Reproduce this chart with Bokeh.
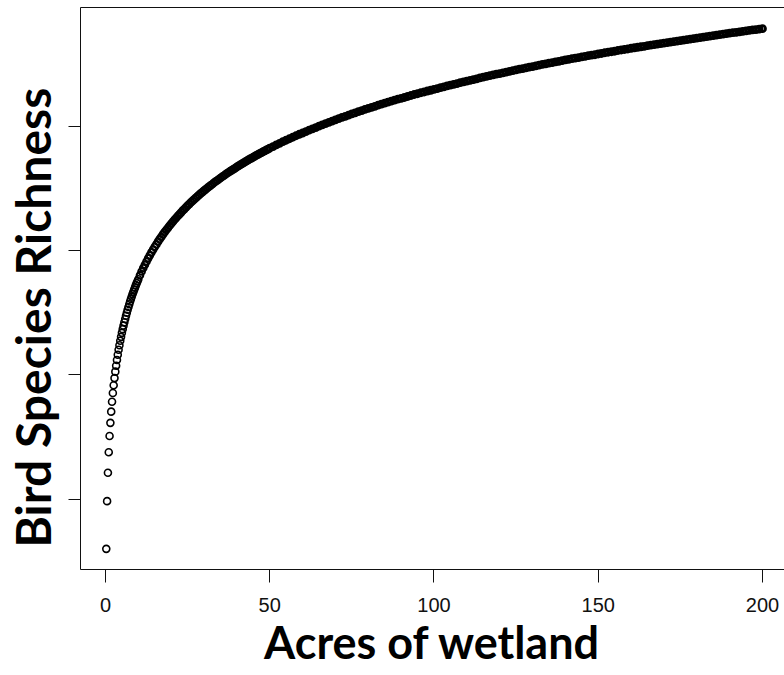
from bokeh.embed import file_html
from bokeh.models import ColumnDataSource, FixedTicker, LinearAxis, Range1d
from bokeh.plotting import figure
from bokeh.resources import INLINE

# Wetland area (acres) sampled finely near zero, coarser further out
acres_fine = [0.25, 0.5, 0.75, 1.0, 1.25, 1.5, 1.75, 2.0, 2.25, 2.5, 2.75, 3.0, 3.25, 3.5,
              3.75, 4.0, 4.25, 4.5, 4.75, 5.0, 5.25, 5.5, 5.75, 6.0, 6.25, 6.5, 6.75, 7.0,
              7.25, 7.5, 7.75, 8.0, 8.25, 8.5, 8.75, 9.0, 9.25, 9.5, 9.75, 10.0]
richness_fine = [8.00, 9.92, 11.06, 11.89, 12.54, 13.07, 13.52, 13.92, 14.27, 14.58, 14.87,
                 15.13, 15.37, 15.60, 15.81, 16.01, 16.19, 16.37, 16.53, 16.69, 16.84, 16.98,
                 17.12, 17.25, 17.38, 17.50, 17.62, 17.73, 17.84, 17.95, 18.05, 18.15, 18.25,
                 18.34, 18.43, 18.52, 18.61, 18.69, 18.77, 18.85]

acres_mid = [10.5, 11, 11.5, 12, 12.5, 13, 13.5, 14, 14.5, 15, 15.5, 16, 16.5, 17, 17.5, 18,
             18.5, 19, 19.5, 20, 20.5, 21, 21.5, 22, 22.5, 23, 23.5, 24, 24.5, 25, 25.5, 26,
             26.5, 27, 27.5, 28, 28.5, 29, 29.5, 30, 30.5, 31, 31.5, 32, 32.5, 33, 33.5, 34,
             34.5, 35, 35.5, 36, 36.5, 37, 37.5, 38, 38.5, 39, 39.5, 40, 40.5, 41, 41.5, 42,
             42.5, 43, 43.5, 44, 44.5, 45, 45.5, 46, 46.5, 47, 47.5, 48, 48.5, 49, 49.5, 50]
richness_mid = [19.01, 19.16, 19.30, 19.43, 19.56, 19.69, 19.81, 19.93, 20.04, 20.15, 20.25,
                20.36, 20.46, 20.55, 20.65, 20.74, 20.83, 20.91, 21.00, 21.08, 21.16, 21.24,
                21.31, 21.39, 21.46, 21.53, 21.61, 21.67, 21.74, 21.81, 21.87, 21.94, 22.00,
                22.06, 22.12, 22.18, 22.24, 22.30, 22.35, 22.41, 22.46, 22.52, 22.57, 22.62,
                22.67, 22.73, 22.78, 22.82, 22.87, 22.92, 22.97, 23.01, 23.06, 23.11, 23.15,
                23.20, 23.24, 23.28, 23.32, 23.37, 23.41, 23.45, 23.49, 23.53, 23.57, 23.61,
                23.65, 23.69, 23.72, 23.76, 23.80, 23.84, 23.87, 23.91, 23.94, 23.98, 24.01,
                24.05, 24.08, 24.12]

acres_wide = [51, 52, 53, 54, 55, 56, 57, 58, 59, 60, 61, 62, 63, 64, 65, 66, 67, 68, 69, 70,
              71, 72, 73, 74, 75, 76, 77, 78, 79, 80, 81, 82, 83, 84, 85, 86, 87, 88, 89, 90,
              91, 92, 93, 94, 95, 96, 97, 98, 99, 100, 101, 102, 103, 104, 105, 106, 107, 108,
              109, 110, 111, 112, 113, 114, 115, 116, 117, 118, 119, 120, 121, 122, 123, 124,
              125, 126, 127, 128, 129, 130, 131, 132, 133, 134, 135, 136, 137, 138, 139, 140,
              141, 142, 143, 144, 145, 146, 147, 148, 149, 150, 151, 152, 153, 154, 155, 156,
              157, 158, 159, 160, 161, 162, 163, 164, 165, 166, 167, 168, 169, 170, 171, 172,
              173, 174, 175, 176, 177, 178, 179, 180, 181, 182, 183, 184, 185, 186, 187, 188,
              189, 190, 191, 192, 193, 194, 195, 196, 197, 198, 199, 200]
richness_wide = [24.18, 24.25, 24.31, 24.38, 24.44, 24.50, 24.56, 24.62, 24.68, 24.73,
                 24.79, 24.85, 24.90, 24.95, 25.01, 25.06, 25.11, 25.16, 25.21, 25.26,
                 25.31, 25.36, 25.40, 25.45, 25.50, 25.54, 25.59, 25.63, 25.68, 25.72,
                 25.76, 25.80, 25.85, 25.89, 25.93, 25.97, 26.01, 26.05, 26.09, 26.12,
                 26.16, 26.20, 26.24, 26.28, 26.31, 26.35, 26.38, 26.42, 26.45, 26.49,
                 26.52, 26.56, 26.59, 26.63, 26.66, 26.69, 26.72, 26.76, 26.79, 26.82,
                 26.85, 26.88, 26.91, 26.95, 26.98, 27.01, 27.04, 27.07, 27.10, 27.12,
                 27.15, 27.18, 27.21, 27.24, 27.27, 27.30, 27.32, 27.35, 27.38, 27.40,
                 27.43, 27.46, 27.49, 27.51, 27.54, 27.56, 27.59, 27.61, 27.64, 27.67,
                 27.69, 27.72, 27.74, 27.76, 27.79, 27.81, 27.84, 27.86, 27.88, 27.91,
                 27.93, 27.96, 27.98, 28.00, 28.02, 28.05, 28.07, 28.09, 28.11, 28.14,
                 28.16, 28.18, 28.20, 28.22, 28.25, 28.27, 28.29, 28.31, 28.33, 28.35,
                 28.37, 28.39, 28.41, 28.43, 28.45, 28.47, 28.49, 28.51, 28.53, 28.55,
                 28.57, 28.59, 28.61, 28.63, 28.65, 28.67, 28.69, 28.71, 28.73, 28.75,
                 28.77, 28.78, 28.80, 28.82, 28.84, 28.86, 28.88, 28.89, 28.91, 28.93]

x_ticks = [0, 50, 100, 150, 200]
y_ticks = [10, 15, 20, 25]

fine = ColumnDataSource(data=dict(acres=acres_fine, richness=richness_fine))
mid = ColumnDataSource(data=dict(acres=acres_mid, richness=richness_mid))
far = ColumnDataSource(data=dict(acres=acres_wide, richness=richness_wide))

p = figure(
    width=784, height=675,
    output_backend="svg", toolbar_location=None,
    x_range=Range1d(-7.6, 206.7), y_range=Range1d(7.17, 29.78),
    min_border_left=79, min_border_right=0, min_border_top=7, min_border_bottom=106,
    background_fill_color="white", border_fill_color="white",
)
p.outline_line_color = None
p.grid.visible = False

# bottom axis: plain numeric ticks plus the bold title
xa = p.xaxis[0]
xa.ticker = FixedTicker(ticks=x_ticks)
xa.axis_line_color = "#111111"
xa.major_tick_line_color = "#111111"
xa.major_tick_out = 13
xa.major_tick_in = 0
xa.minor_tick_out = 0
xa.minor_tick_in = 0
xa.major_label_text_font = "Liberation Sans"
xa.major_label_text_font_size = "20px"
xa.major_label_text_color = "#111111"
xa.major_label_standoff = 15
xa.axis_label = "Acres of wetland"
xa.axis_label_text_font = "Lato"
xa.axis_label_text_font_style = "bold"
xa.axis_label_text_font_size = "45px"
xa.axis_label_text_color = "black"
xa.axis_label_standoff = 0

# left axis: tick marks only, no numbers, plus the bold title
# (trailing no-break spaces push the title a little lower along the axis)
ya = p.yaxis[0]
ya.ticker = FixedTicker(ticks=y_ticks)
ya.axis_line_color = "#111111"
ya.major_tick_line_color = "#111111"
ya.major_tick_out = 12
ya.major_tick_in = 0
ya.minor_tick_out = 0
ya.minor_tick_in = 0
ya.major_label_overrides = {t: "" for t in y_ticks}
ya.major_label_standoff = 0
ya.axis_label = "Bird Species Richness" + "\u00a0" * 5
ya.axis_label_text_font = "Lato"
ya.axis_label_text_font_style = "bold"
ya.axis_label_text_font_size = "48px"
ya.axis_label_text_color = "black"
ya.axis_label_standoff = 8

# top edge of the box
top = LinearAxis(
    ticker=FixedTicker(ticks=[]),
    axis_line_color="#111111",
    major_tick_out=0, major_tick_in=0, minor_tick_out=0, minor_tick_in=0,
    major_label_standoff=0,
)
p.add_layout(top, "above")

# open circles; where they pack together they read as one solid band
p.scatter(
    x="acres", y="richness", source=fine, marker="circle",
    size=7.0, fill_color=None, line_color="black", line_width=1.6,
)
p.scatter(
    x="acres", y="richness", source=mid, marker="circle",
    size=6.6, fill_color=None, line_color="black", line_width=2.1,
)
p.scatter(
    x="acres", y="richness", source=far, marker="circle",
    size=6.0, fill_color=None, line_color="black", line_width=2.8,
)

open("out.html", "w").write(file_html(p, INLINE))
